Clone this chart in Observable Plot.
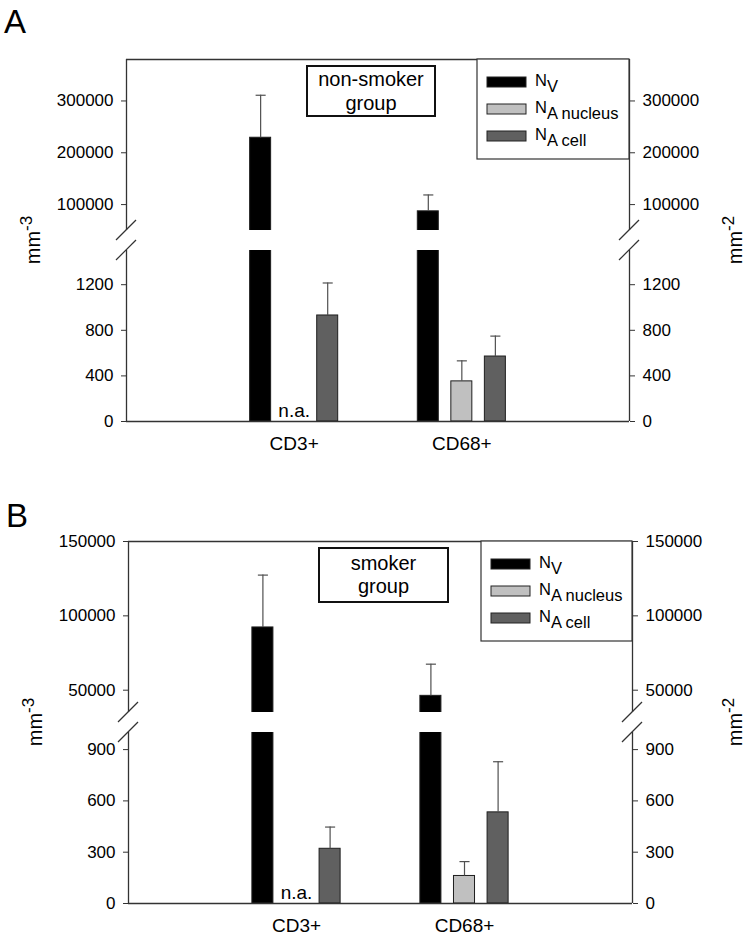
<!DOCTYPE html>
<html>
<head>
<meta charset="utf-8">
<script src="https://cdn.jsdelivr.net/npm/d3@7"></script>
<script src="https://cdn.jsdelivr.net/npm/@observablehq/plot@0.6"></script>
<style>
  body { margin: 0; background: #fff; }
  #fig { position: relative; width: 748px; height: 938px; overflow: hidden; background: #fff; }
</style>
</head>
<body>
<div id="fig"></div>
<script>
// ---------------- data ----------------
const groups = ["CD3+", "CD68+"];
const seriesNames = ["NV", "NA nucleus", "NA cell"];

// Panel A: non-smoker group (mean, SD); null = n.a.
const nonSmokerNV = [229000, 87000];
const nonSmokerNVsd = [82000, 31600];
const nonSmokerNAnucleus = [null, 352];
const nonSmokerNAnucleusSd = [null, 180];
const nonSmokerNAcell = [930, 570];
const nonSmokerNAcellSd = [285, 179];

// Panel B: smoker group
const smokerNV = [92200, 46200];
const smokerNVsd = [35200, 21300];
const smokerNAnucleus = [null, 161];
const smokerNAnucleusSd = [null, 84];
const smokerNAcell = [320, 533];
const smokerNAcellSd = [127, 296];

// axis ticks and scale domains
const ticksAUpper = [100000, 200000, 300000];
const ticksALower = [0, 400, 800, 1200];
const ticksBUpper = [50000, 100000, 150000];
const ticksBLower = [0, 300, 600, 900];
const domainAUpper = [50000, 380000];
const domainALower = [0, 1500];
const domainBUpper = [35000, 150000];
const domainBLower = [0, 1000];

// ---------------- drawing ----------------
const W = 748;
const FONT = '"Liberation Sans", Arial, Helvetica, sans-serif';
const seriesColors = ["#000000", "#c0c0c0", "#606060"];
const FRAME_H = 171;

function makeRows(means, sds) {
  const out = [];
  groups.forEach((g, gi) => seriesNames.forEach((s, si) => {
    out.push({group: g, series: s, gi, si, mean: means[si][gi], sd: sds[si][gi]});
  }));
  return out;
}
const pos = d => d.gi + 1 + (d.si - 1) * 0.2;
const HW = 0.0626, CAP = 0.03;

function segment(rows, o) {
  const valid = rows.filter(d => d.mean != null);
  const axisOpts = {ticks: o.ticks, tickSize: 5, tickPadding: 8, tickFormat: d => String(d),
    fontSize: 17, label: null, stroke: "#333"};
  const marks = [
    Plot.rectY(valid, {x1: d => pos(d) - HW, x2: d => pos(d) + HW, y1: 0, y2: "mean",
      fill: "series", stroke: "#1e1e1e", strokeWidth: 1, clip: true}),
    Plot.ruleX(valid, {x: pos, y1: "mean", y2: d => d.mean + d.sd, stroke: "#505050", strokeWidth: 1.2, clip: true}),
    Plot.link(valid, {x1: d => pos(d) - CAP, x2: d => pos(d) + CAP,
      y1: d => d.mean + d.sd, y2: d => d.mean + d.sd, stroke: "#505050", strokeWidth: 1.2, clip: true}),
    Plot.ruleX([0, 3], {stroke: "#333", strokeWidth: 1.3}),
    Plot.ruleY([o.edge], {stroke: "#333", strokeWidth: 1.3}),
    Plot.axisY({anchor: "left", ...axisOpts}),
    Plot.axisY({anchor: "right", ...axisOpts})
  ];
  if (o.bottom) {
    marks.push(Plot.axisX({ticks: [1, 2], tickFormat: v => groups[v - 1], tickSize: 0, tickPadding: 15,
      fontSize: 19, label: null}));
    marks.push(Plot.text(rows.filter(d => d.mean == null), {x: pos, y: 0, text: d => "n.a.", dy: -11, fontSize: 19}));
  }
  return Plot.plot({
    width: W, height: o.height,
    marginTop: o.mt, marginBottom: o.mb, marginLeft: o.ml, marginRight: o.mr,
    x: o.bottom ? {domain: [0, 3]} : {domain: [0, 3], axis: null},
    y: {domain: o.domain},
    color: {domain: seriesNames, range: seriesColors},
    style: {fontFamily: FONT, fontSize: "17px", color: "#000", background: "transparent", overflow: "visible"},
    marks
  });
}

const fig = document.getElementById("fig");
function place(el, top) {
  el.style.position = "absolute";
  el.style.left = "0px";
  el.style.top = top + "px";
  el.style.margin = "0";
  fig.appendChild(el);
}

const panels = [
  {letter: "A", letterX: 4, letterY: 33, rows: makeRows([nonSmokerNV, nonSmokerNAnucleus, nonSmokerNAcell],
      [nonSmokerNVsd, nonSmokerNAnucleusSd, nonSmokerNAcellSd]),
   ml: 126, mr: 119, upperTop: 59, lowerTop: 250, upperDomain: domainAUpper, lowerDomain: domainALower,
   upperTicks: ticksAUpper, lowerTicks: ticksALower,
   title: ["non-smoker", "group"], box: {x: 307, y: 66, w: 128, h: 50, b1: 86, b2: 110},
   legend: {x: 477, y: 59, w: 152, h: 100}},
  {letter: "B", letterX: 6, letterY: 527, rows: makeRows([smokerNV, smokerNAnucleus, smokerNAcell],
      [smokerNVsd, smokerNAnucleusSd, smokerNAcellSd]),
   ml: 128, mr: 116, upperTop: 541, lowerTop: 732, upperDomain: domainBUpper, lowerDomain: domainBLower,
   upperTicks: ticksBUpper, lowerTicks: ticksBLower,
   title: ["smoker", "group"], box: {x: 319, y: 548, w: 129, h: 54, b1: 570, b2: 593},
   legend: {x: 481, y: 541, w: 151, h: 100}}
];

panels.forEach(p => {
  const up = segment(p.rows, {domain: p.upperDomain, ticks: p.upperTicks, edge: p.upperDomain[1],
    height: FRAME_H + 20, mt: 10, mb: 10, ml: p.ml, mr: p.mr, bottom: false});
  place(up, p.upperTop - 10);
  const lo = segment(p.rows, {domain: p.lowerDomain, ticks: p.lowerTicks, edge: 0,
    height: FRAME_H + 45, mt: 10, mb: 35, ml: p.ml, mr: p.mr, bottom: true});
  place(lo, p.lowerTop - 10);
});

// overlay: panel letters, axis titles, break marks, title boxes, legends
const svg = d3.create("svg").attr("width", W).attr("height", 938)
  .style("position", "absolute").style("left", "0px").style("top", "0px")
  .style("font-family", FONT);

panels.forEach(p => {
  svg.append("text").attr("x", p.letterX).attr("y", p.letterY).attr("font-size", 33).text(p.letter);

  const xl = p.ml, xr = W - p.mr;
  const yBreaks = [p.upperTop + FRAME_H, p.lowerTop];
  [xl, xr].forEach(x => yBreaks.forEach(y => {
    svg.append("line").attr("x1", x - 10).attr("y1", y + 10).attr("x2", x + 10).attr("y2", y - 10)
      .attr("stroke", "#333").attr("stroke-width", 1.2);
  }));

  const cy = (p.upperTop + p.lowerTop + FRAME_H) / 2;
  [[xl - 86, "-3"], [W - 6, "-2"]].forEach(([x, sup]) => {
    const t = svg.append("text").attr("transform", `translate(${x},${cy}) rotate(-90)`)
      .attr("text-anchor", "middle").attr("font-size", 20);
    t.append("tspan").text("mm");
    t.append("tspan").attr("dy", -8).attr("font-size", 17).text(sup);
  });

  const b = p.box;
  svg.append("rect").attr("x", b.x).attr("y", b.y).attr("width", b.w).attr("height", b.h)
    .attr("fill", "#fff").attr("stroke", "#111").attr("stroke-width", 2);
  svg.append("text").attr("x", b.x + b.w / 2).attr("y", b.b1).attr("text-anchor", "middle")
    .attr("font-size", 20).text(p.title[0]);
  svg.append("text").attr("x", b.x + b.w / 2).attr("y", b.b2).attr("text-anchor", "middle")
    .attr("font-size", 20).text(p.title[1]);

  const L = p.legend;
  svg.append("rect").attr("x", L.x).attr("y", L.y).attr("width", L.w).attr("height", L.h)
    .attr("fill", "#fff").attr("stroke", "#333").attr("stroke-width", 1.2);
  const subs = ["V", "A nucleus", "A cell"];
  seriesNames.forEach((s, i) => {
    const yc = L.y + 23 + i * 27;
    svg.append("rect").attr("x", L.x + 10).attr("y", yc - 5).attr("width", 39).attr("height", 10)
      .attr("fill", seriesColors[i]).attr("stroke", "#222").attr("stroke-width", 1);
    const t = svg.append("text").attr("x", L.x + 58).attr("y", yc + 4).attr("font-size", 16.5);
    t.append("tspan").text("N");
    t.append("tspan").attr("dy", 6).text(subs[i]);
  });
});

fig.appendChild(svg.node());
</script>
</body>
</html>
